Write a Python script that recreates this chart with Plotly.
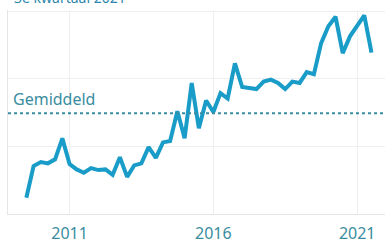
import pandas as pd
import plotly.graph_objects as go

quarters = pd.period_range("2009Q3", "2021Q3", freq="Q").to_timestamp(how="start")
values = [2.4, 7.1, 7.7, 7.5, 8.1, 11.2, 7.4, 6.6, 6.1, 6.8, 6.5, 6.6, 5.8, 8.4, 5.5,
          7.2, 7.5, 9.9, 8.3, 10.6, 10.8, 15.2, 11.2, 19.4, 12.7, 16.8, 15.1, 17.9, 17.1,
          22.3, 18.8, 18.6, 18.5, 19.6, 19.9, 19.4, 18.5, 19.6, 19.4, 21.0, 20.7, 25.3,
          27.8, 29.2, 23.8, 26.3, 27.8, 29.4, 23.9]
average = 14.9
tick_years = ["2011", "2016", "2021"]
title_text = "3e kwartaal 2021"
avg_label = "Gemiddeld"

teal = "#3a8da0"
line_color = "#1a9cc8"

fig = go.Figure()
fig.add_trace(go.Scatter(x=quarters, y=values, mode="lines",
                         line=dict(color=line_color, width=4), hoverinfo="skip"))
fig.add_shape(type="line", xref="paper", x0=0, x1=1, yref="y", y0=average, y1=average,
              line=dict(color=teal, width=2, dash="dot"))
fig.add_annotation(text=avg_label, xref="paper", x=0, xshift=3, xanchor="left",
                   yref="y", y=average, yanchor="bottom", yshift=1, showarrow=False,
                   font=dict(family="Noto Sans", size=16, color=teal))
fig.add_annotation(text=title_text, xref="paper", x=0, xshift=4, xanchor="left",
                   yref="paper", y=1, yanchor="bottom", yshift=1, showarrow=False,
                   font=dict(family="Noto Sans", size=14, color="#2a86ad"))

fig.update_layout(
    width=385, height=245, margin=dict(l=8, r=0, t=10, b=31),
    paper_bgcolor="white", plot_bgcolor="white", showlegend=False,
    xaxis=dict(range=["2008-11-10", "2021-12-20"], automargin=False,
               tickvals=[f"{y}-01-01" for y in tick_years], ticktext=tick_years,
               showgrid=True, gridcolor="#efefef", gridwidth=1, zeroline=False,
               showline=True, linecolor="#e6e6e6", ticks="", ticklabelstandoff=5,
               tickfont=dict(family="Noto Sans", size=16, color=teal)),
    yaxis=dict(range=[0, 30.2], tickvals=[0, 10, 20, 30], showticklabels=False,
               automargin=False,
               showgrid=True, gridcolor="#efefef", zeroline=False,
               showline=True, linecolor="#e6e6e6", ticks=""),
)
fig.write_html("out.html", config={"displayModeBar": False},
               post_script="document.body.style.margin='0';document.body.style.overflow='hidden';")
